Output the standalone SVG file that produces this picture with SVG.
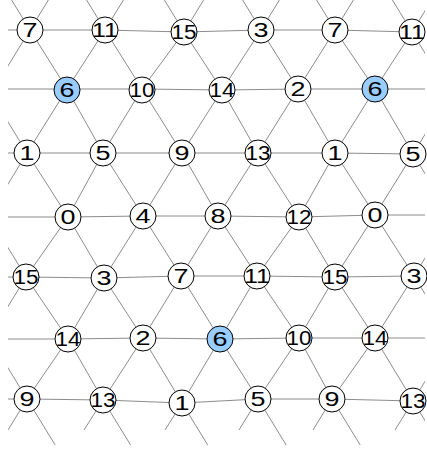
<svg xmlns="http://www.w3.org/2000/svg" width="427" height="450" viewBox="0 0 427 450">
<style>
.e{fill:none;stroke:#8c8c8c;stroke-width:1}
.n circle{fill:#fff;stroke:#000;stroke-width:1}
.n.h circle{fill:#99ccff}
.n text{font-family:"Liberation Sans",Arial,sans-serif;font-size:19.5px;text-anchor:middle;fill:#000}
</style>
<defs><clipPath id="c"><rect x="8" y="0" width="417" height="445"/></clipPath></defs>
<rect width="427" height="450" fill="#fff"/>
<g id="connectors" class="e" clip-path="url(#c)">
<path d="M0 30H30L105 30L184 32L261 30L335 30L412 32L427 32
M0 89H67L142 89L222 90L298 89L375 89L427 89
M0 153H27L103 153L182 153L258 153L335 153L413 154L427 154
M0 217H68L143 216L218 216L299 217L375 215L427 215
M0 277H26L104 278L181 276L257 276L335 277L414 276L427 276
M0 339H68L143 338L220 339L299 338L375 338L427 338
M0 399H27L103 400L182 403L258 399L332 399L413 401L427 401"/>
<path d="M30 30L-8 -32M30 30L68 -32M105 30L67 -32M105 30L143 -32M184 32L146 -30M184 32L222 -30M261 30L223 -32M261 30L299 -32M335 30L297 -32M335 30L373 -32M412 32L374 -30M412 32L450 -30
M30 30L-8 92M30 30L67 89M105 30L67 89M105 30L142 89M184 32L142 89M184 32L222 90M261 30L222 90M261 30L298 89M335 30L298 89M335 30L375 89M412 32L375 89M412 32L450 94
M27 153L-11 91M413 154L451 92
M67 89L27 153M67 89L103 153M142 89L103 153M142 89L182 153M222 90L182 153M222 90L258 153M298 89L258 153M298 89L335 153M375 89L335 153M375 89L413 154
M27 153L-11 215M413 154L451 216
M27 153L68 217M103 153L68 217M103 153L143 216M182 153L143 216M182 153L218 216M258 153L218 216M258 153L299 217M335 153L299 217M335 153L375 215M413 154L375 215
M26 277L-12 215M414 276L452 214
M68 217L26 277M68 217L104 278M143 216L104 278M143 216L181 276M218 216L181 276M218 216L257 276M299 217L257 276M299 217L335 277M375 215L335 277M375 215L414 276
M26 277L-12 339M414 276L452 338
M26 277L68 339M104 278L68 339M104 278L143 338M181 276L143 338M181 276L220 339M257 276L220 339M257 276L299 338M335 277L299 338M335 277L375 338M414 276L375 338
M27 399L-11 337M413 401L451 339
M68 339L27 399M68 339L103 400M143 338L103 400M143 338L182 403M220 339L182 403M220 339L258 399M299 338L258 399M299 338L332 399M375 338L332 399M375 338L413 401
M27 399L8 430M27 399L65 461M103 400L84 430M103 400L141 462M182 403L165 430M182 403L220 465M258 399L239 430M258 399L296 461M332 399L313 430M332 399L370 461M413 401L395 430M413 401L451 463"/>
</g>
<g id="n0-0" class="n"><circle cx="30" cy="30" r="13"/><text x="30" y="37" textLength="15" lengthAdjust="spacingAndGlyphs">7</text></g>
<g id="n0-1" class="n"><circle cx="105" cy="30" r="13"/><text x="105" y="37" textLength="26" lengthAdjust="spacingAndGlyphs">11</text></g>
<g id="n0-2" class="n"><circle cx="184" cy="32" r="13"/><text x="184" y="39" textLength="25" lengthAdjust="spacingAndGlyphs">15</text></g>
<g id="n0-3" class="n"><circle cx="261" cy="30" r="13"/><text x="261" y="37" textLength="15" lengthAdjust="spacingAndGlyphs">3</text></g>
<g id="n0-4" class="n"><circle cx="335" cy="30" r="13"/><text x="335" y="37" textLength="15" lengthAdjust="spacingAndGlyphs">7</text></g>
<g id="n0-5" class="n"><circle cx="412" cy="32" r="13"/><text x="412" y="39" textLength="26" lengthAdjust="spacingAndGlyphs">11</text></g>
<g id="n1-0" class="n h"><circle cx="67" cy="90" r="13"/><text x="67" y="97" textLength="15" lengthAdjust="spacingAndGlyphs">6</text></g>
<g id="n1-1" class="n"><circle cx="142" cy="90" r="13"/><text x="142" y="97" textLength="25" lengthAdjust="spacingAndGlyphs">10</text></g>
<g id="n1-2" class="n"><circle cx="222" cy="90" r="13"/><text x="222" y="97" textLength="25" lengthAdjust="spacingAndGlyphs">14</text></g>
<g id="n1-3" class="n"><circle cx="298" cy="89" r="13"/><text x="298" y="96" textLength="15" lengthAdjust="spacingAndGlyphs">2</text></g>
<g id="n1-4" class="n h"><circle cx="375" cy="89" r="13"/><text x="375" y="96" textLength="15" lengthAdjust="spacingAndGlyphs">6</text></g>
<g id="n2-0" class="n"><circle cx="27" cy="153" r="13"/><text x="27" y="160" textLength="15" lengthAdjust="spacingAndGlyphs">1</text></g>
<g id="n2-1" class="n"><circle cx="103" cy="153" r="13"/><text x="103" y="160" textLength="15" lengthAdjust="spacingAndGlyphs">5</text></g>
<g id="n2-2" class="n"><circle cx="182" cy="153" r="13"/><text x="182" y="160" textLength="15" lengthAdjust="spacingAndGlyphs">9</text></g>
<g id="n2-3" class="n"><circle cx="258" cy="153" r="13"/><text x="258" y="160" textLength="25" lengthAdjust="spacingAndGlyphs">13</text></g>
<g id="n2-4" class="n"><circle cx="335" cy="153" r="13"/><text x="335" y="160" textLength="15" lengthAdjust="spacingAndGlyphs">1</text></g>
<g id="n2-5" class="n"><circle cx="413" cy="154" r="13"/><text x="413" y="161" textLength="15" lengthAdjust="spacingAndGlyphs">5</text></g>
<g id="n3-0" class="n"><circle cx="68" cy="217" r="13"/><text x="68" y="224" textLength="15" lengthAdjust="spacingAndGlyphs">0</text></g>
<g id="n3-1" class="n"><circle cx="143" cy="216" r="13"/><text x="143" y="223" textLength="15" lengthAdjust="spacingAndGlyphs">4</text></g>
<g id="n3-2" class="n"><circle cx="218" cy="216" r="13"/><text x="218" y="223" textLength="15" lengthAdjust="spacingAndGlyphs">8</text></g>
<g id="n3-3" class="n"><circle cx="299" cy="217" r="13"/><text x="299" y="224" textLength="25" lengthAdjust="spacingAndGlyphs">12</text></g>
<g id="n3-4" class="n"><circle cx="375" cy="215" r="13"/><text x="375" y="222" textLength="15" lengthAdjust="spacingAndGlyphs">0</text></g>
<g id="n4-0" class="n"><circle cx="26" cy="277" r="13"/><text x="26" y="284" textLength="25" lengthAdjust="spacingAndGlyphs">15</text></g>
<g id="n4-1" class="n"><circle cx="104" cy="278" r="13"/><text x="104" y="285" textLength="15" lengthAdjust="spacingAndGlyphs">3</text></g>
<g id="n4-2" class="n"><circle cx="181" cy="276" r="13"/><text x="181" y="283" textLength="15" lengthAdjust="spacingAndGlyphs">7</text></g>
<g id="n4-3" class="n"><circle cx="257" cy="276" r="13"/><text x="257" y="283" textLength="26" lengthAdjust="spacingAndGlyphs">11</text></g>
<g id="n4-4" class="n"><circle cx="335" cy="277" r="13"/><text x="335" y="284" textLength="25" lengthAdjust="spacingAndGlyphs">15</text></g>
<g id="n4-5" class="n"><circle cx="414" cy="276" r="13"/><text x="414" y="283" textLength="15" lengthAdjust="spacingAndGlyphs">3</text></g>
<g id="n5-0" class="n"><circle cx="68" cy="339" r="13"/><text x="68" y="346" textLength="25" lengthAdjust="spacingAndGlyphs">14</text></g>
<g id="n5-1" class="n"><circle cx="143" cy="338" r="13"/><text x="143" y="345" textLength="15" lengthAdjust="spacingAndGlyphs">2</text></g>
<g id="n5-2" class="n h"><circle cx="220" cy="339" r="13"/><text x="220" y="346" textLength="15" lengthAdjust="spacingAndGlyphs">6</text></g>
<g id="n5-3" class="n"><circle cx="299" cy="338" r="13"/><text x="299" y="345" textLength="25" lengthAdjust="spacingAndGlyphs">10</text></g>
<g id="n5-4" class="n"><circle cx="375" cy="338" r="13"/><text x="375" y="345" textLength="25" lengthAdjust="spacingAndGlyphs">14</text></g>
<g id="n6-0" class="n"><circle cx="27" cy="399" r="13"/><text x="27" y="406" textLength="15" lengthAdjust="spacingAndGlyphs">9</text></g>
<g id="n6-1" class="n"><circle cx="103" cy="400" r="13"/><text x="103" y="407" textLength="25" lengthAdjust="spacingAndGlyphs">13</text></g>
<g id="n6-2" class="n"><circle cx="182" cy="403" r="13"/><text x="182" y="410" textLength="15" lengthAdjust="spacingAndGlyphs">1</text></g>
<g id="n6-3" class="n"><circle cx="258" cy="399" r="13"/><text x="258" y="406" textLength="15" lengthAdjust="spacingAndGlyphs">5</text></g>
<g id="n6-4" class="n"><circle cx="332" cy="399" r="13"/><text x="332" y="406" textLength="15" lengthAdjust="spacingAndGlyphs">9</text></g>
<g id="n6-5" class="n"><circle cx="413" cy="401" r="13"/><text x="413" y="408" textLength="25" lengthAdjust="spacingAndGlyphs">13</text></g>
</svg>
